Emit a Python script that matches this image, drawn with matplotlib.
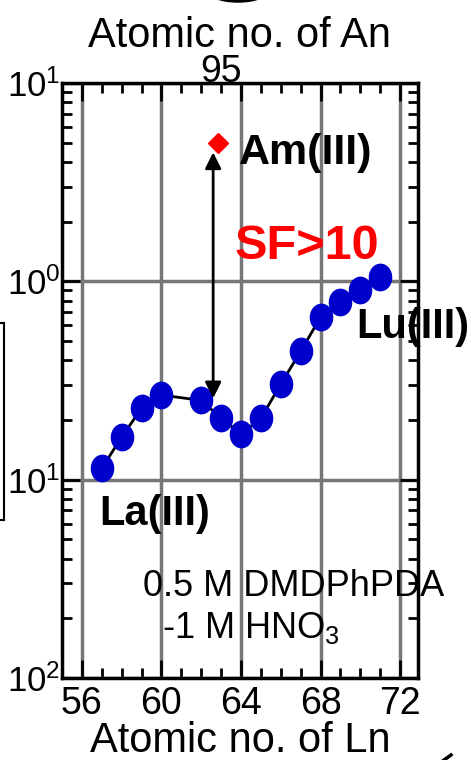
import numpy as np
import matplotlib.pyplot as plt
from matplotlib.path import Path
from matplotlib.patches import Arc
from matplotlib.lines import Line2D

# Distribution ratios
ln_z = [57, 58, 59, 60, 62, 63, 64, 65, 66, 67, 68, 69, 70, 71]
ln_d = [0.114, 0.164, 0.229, 0.267, 0.251, 0.204, 0.170, 0.204,
        0.303, 0.444, 0.659, 0.79, 0.90, 1.05]
am_z = 62.85
am_d = 4.96
arrow_low = 0.257
arrow_high = 4.47

x_ticks = [56, 60, 64, 68, 72]
y_ticks = [1e-2, 1e-1, 1e0, 1e1]
y_ticklabels = ['10$^2$', '10$^1$', '10$^0$', '10$^1$']

plt.rcParams['font.family'] = ['Liberation Sans', 'DejaVu Sans']
plt.rcParams['mathtext.fontset'] = 'custom'
plt.rcParams['mathtext.rm'] = 'Liberation Sans'
plt.rcParams['mathtext.it'] = 'Liberation Sans'
plt.rcParams['mathtext.bf'] = 'Liberation Sans:bold'

fig = plt.figure(figsize=(4.71, 7.6), dpi=100)
ax = fig.add_axes([0.1316, 0.1079, 0.7559, 0.7829])

# tall ellipse marker
circ = Path.unit_circle()
ell = Path(circ.vertices * np.array([0.84, 1.0]), circ.codes)

ax.plot(ln_z, ln_d, color='black', lw=2, zorder=3)
ax.plot(ln_z, ln_d, ls='none', marker=ell, markersize=19,
        color='#0000cc', zorder=4)
ax.plot([am_z], [am_d], ls='none', marker='D', markersize=10,
        color='#ff0000', zorder=4)
ax.annotate('', xy=(62.6, arrow_high), xytext=(62.6, arrow_low),
            arrowprops=dict(arrowstyle='<|-|>', color='black', lw=2,
                            mutation_scale=24, shrinkA=0, shrinkB=0),
            zorder=5)

ax.set_yscale('log')
ax.set_xlim(55.05, 72.9)
ax.set_ylim(1e-2, 1e1)
ax.set_xticks(x_ticks)
ax.set_xticks(np.arange(55, 73), minor=True)
ax.set_yticks(y_ticks)
ax.set_yticklabels(y_ticklabels)
ax.tick_params(which='both', direction='in', top=True, right=True,
               width=2, labelsize=27, pad=6)
ax.tick_params(which='major', length=13)
ax.tick_params(which='minor', length=7)
ax.tick_params(axis='y', which='minor', labelleft=False)
ax.tick_params(axis='y', pad=1, labelsize=25)
for s in ax.spines.values():
    s.set_linewidth(2.5)
ax.grid(True, which='major', color='#777777', lw=2.5, zorder=0)

ax.set_xlabel('Atomic no. of Ln', fontsize=30, labelpad=-1)

sec = ax.secondary_xaxis('top')
sec.set_xticks([63])
sec.set_xticklabels(['95'])
sec.tick_params(length=0, labelsize=27, pad=-5)
sec.spines['top'].set_visible(False)
sec.set_xlabel('Atomic no. of An', fontsize=30, labelpad=5)

ax.text(63.9, 4.45, 'Am(III)', fontsize=31, fontweight='bold',
        va='center', ha='left')
ax.text(63.7, 1.5, 'SF>10', fontsize=35, fontweight='bold',
        color='#ff0000', va='center', ha='left')
ax.text(69.8, 0.59, 'Lu(III)', fontsize=30, fontweight='bold',
        va='center', ha='left', clip_on=False)
ax.text(56.85, 0.067, 'La(III)', fontsize=30, fontweight='bold',
        va='center', ha='left')
ax.text(59.05, 0.0288, '0.5 M DMDPhPDA', fontsize=26, va='center',
        ha='left')
ax.text(60.05, 0.0178, '-1 M HNO$_3$', fontsize=26, va='center',
        ha='left')

# cropped fragments at the edges of the original picture
fig.add_artist(Line2D([4 / 471, 4 / 471], [1 - 323 / 760, 1 - 520 / 760],
                      color='black', lw=1.5))
fig.add_artist(Line2D([0, 4 / 471], [1 - 323 / 760, 1 - 323 / 760],
                      color='black', lw=1.5))
fig.add_artist(Line2D([0, 4 / 471], [1 - 520 / 760, 1 - 520 / 760],
                      color='black', lw=1.5))
fig.add_artist(Arc((238 / 471, 1 + 12 / 760), 64 / 471, 26 / 760,
                   color='black', lw=2.5, transform=fig.transFigure))
fig.add_artist(Line2D([444 / 471, 451 / 471], [0, 5 / 760],
                      color='black', lw=2.5))

fig.savefig('out.png', dpi=100)
